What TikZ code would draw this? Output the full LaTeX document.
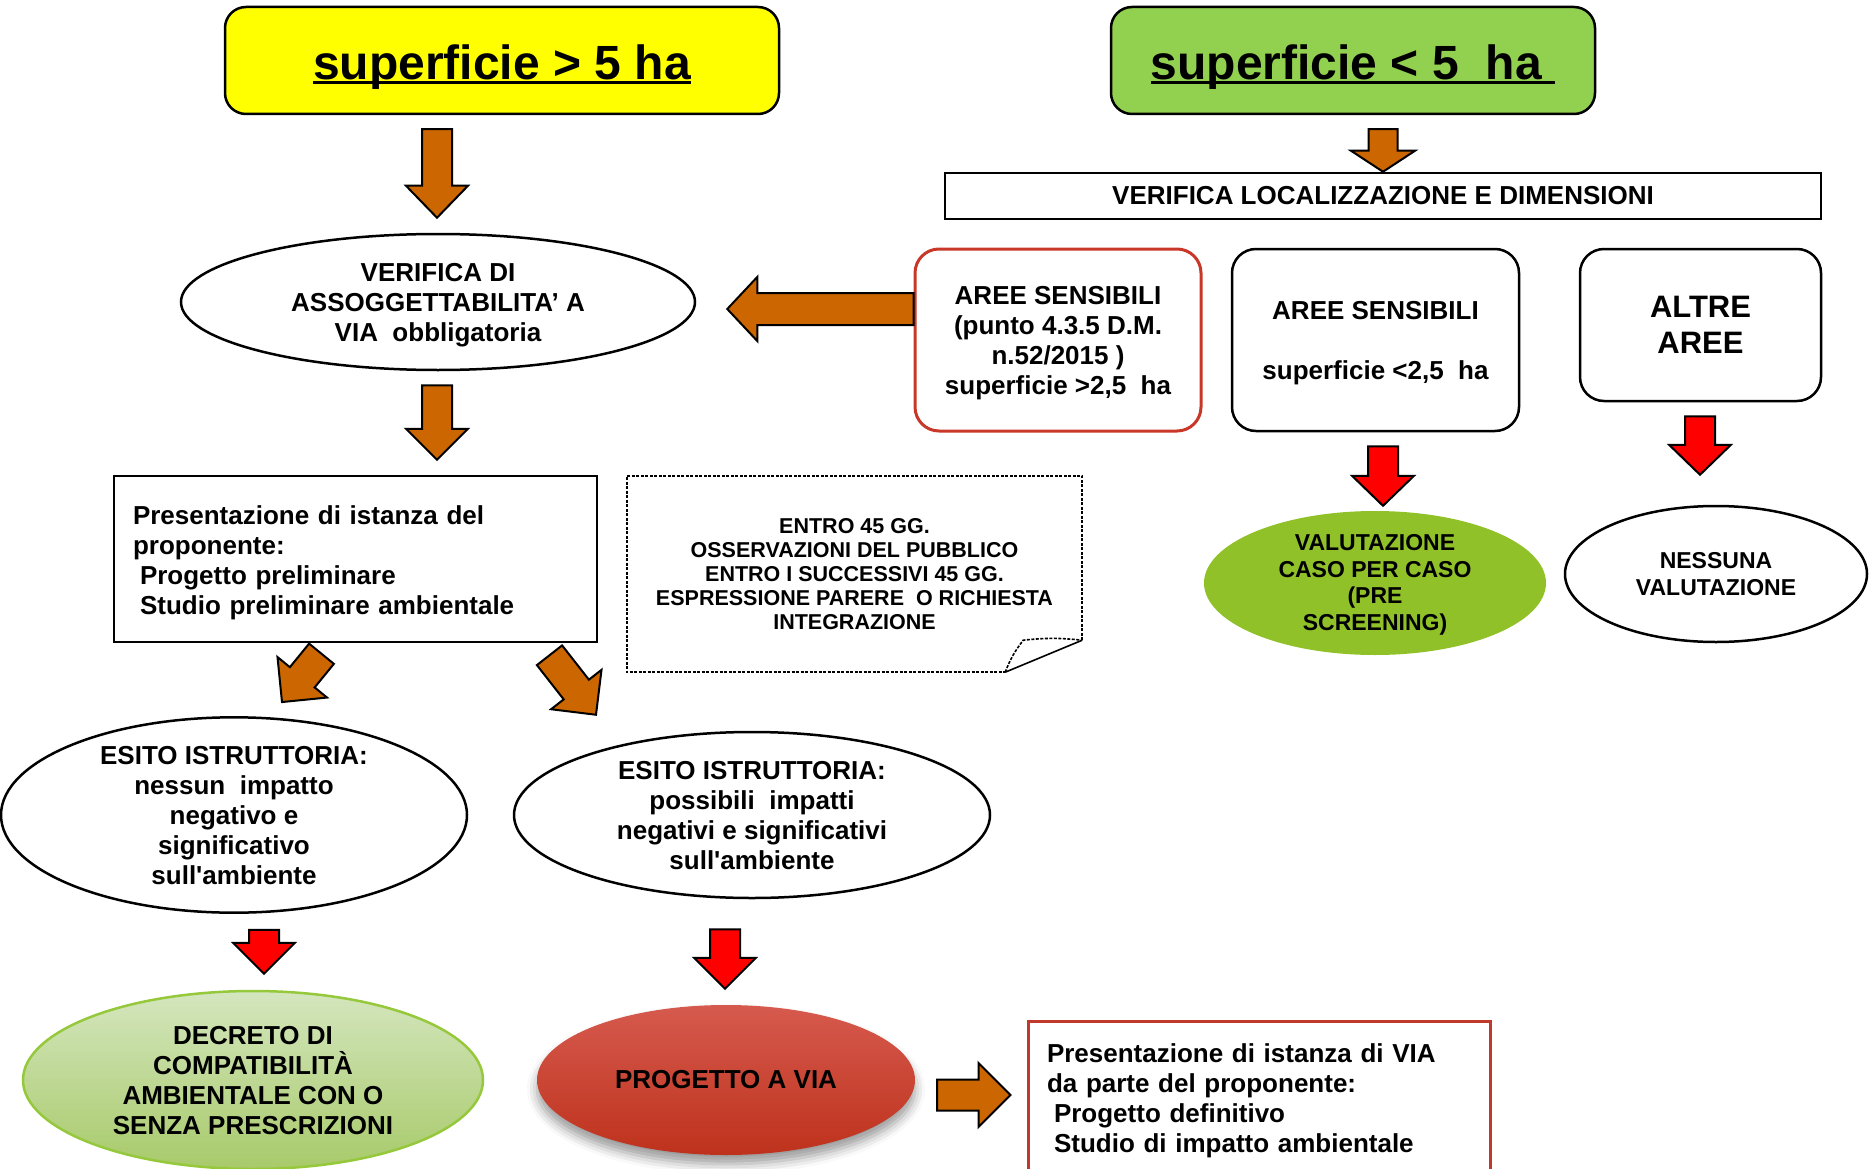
\documentclass[tikz,border=0pt]{standalone}
\usepackage{fontspec}
\setmainfont{Liberation Sans}
\usetikzlibrary{shapes.geometric,calc,shadows.blur}
\definecolor{arrorange}{RGB}{204,102,0}
\definecolor{arrred}{RGB}{255,0,0}
\definecolor{yelbox}{RGB}{255,255,0}
\definecolor{grnbox}{RGB}{146,208,80}
\definecolor{olivegrn}{RGB}{145,193,40}
\definecolor{sensred}{RGB}{200,55,40}
\definecolor{boxred}{RGB}{192,57,43}
\definecolor{dectop}{RGB}{212,230,190}
\definecolor{decbot}{RGB}{168,202,106}
\definecolor{decline}{RGB}{150,200,60}
\definecolor{prtop}{RGB}{214,90,78}
\definecolor{prbot}{RGB}{190,50,28}
\newsavebox{\ulsave}
\newcommand{\ultext}[1]{\sbox{\ulsave}{#1}\rlap{\rule[-5pt]{\wd\ulsave}{3pt}}\usebox{\ulsave}}
% block arrow between two named coordinates
\newcommand{\blockarrow}[6]{%
  \coordinate (bah) at ($(#2)!#4!(#1)$);
  \draw[barrow, fill=#3] ($(#1)!#5!90:(#2)$) -- ($(bah)!#5!90:(#2)$) -- ($(bah)!#6!90:(#2)$) -- (#2) -- ($(bah)!#6!-90:(#2)$) -- ($(bah)!#5!-90:(#2)$) -- ($(#1)!#5!-90:(#2)$) -- cycle;
}
\begin{document}
\begin{tikzpicture}[x=1pt,y=-1pt,
  every node/.style={font=\bfseries\fontsize{26}{30}\selectfont, align=center, inner sep=0pt},
  bord/.style={draw=black, line width=2.5pt},
  barrow/.style={draw=black, line width=2pt, line join=miter},
  notedash/.style={draw=black, line width=1.6pt, dash pattern=on 3pt off 1.5pt},
  bigfont/.style={font=\bfseries\fontsize{48}{54}\selectfont},
  midfont/.style={font=\bfseries\fontsize{23}{26.5}\selectfont},
]
\useasboundingbox (0,0) rectangle (1876,1169);
\clip (0,0) rectangle (1876,1169);

% top boxes
\node[bord, fill=yelbox, rounded corners=21pt, minimum width=554pt, minimum height=107pt, bigfont, text height=47pt] (gt5) at (502,60.5) {\ultext{superficie > 5 ha}};
\node[bord, fill=grnbox, rounded corners=21pt, minimum width=484pt, minimum height=107pt, bigfont, text height=47pt] (lt5) at (1353,60.5) {\ultext{superficie < 5\ \ ha\ }};

\node[bord, minimum width=876pt, minimum height=46pt] (loc) at (1383,196) {VERIFICA LOCALIZZAZIONE E DIMENSIONI};

\node[bord, ellipse, minimum width=514pt, minimum height=136pt, text depth=-1.7pt] (ver) at (438,302) {VERIFICA DI\\ASSOGGETTABILITA’ A\\VIA\ \ obbligatoria};

\node[draw=sensred, line width=3pt, rounded corners=24pt, minimum width=286pt, minimum height=182pt, text depth=-4.5pt] (as1) at (1058,340) {AREE SENSIBILI\\(punto 4.3.5 D.M.\\n.52/2015 )\\superficie >2,5\ \ ha};
\node[bord, rounded corners=24pt, minimum width=287pt, minimum height=182pt, text depth=-1.7pt] (as2) at (1375.5,340) {AREE SENSIBILI\\[30pt]superficie <2,5\ \ ha};
\node[bord, rounded corners=24pt, minimum width=241pt, minimum height=152pt, font=\bfseries\fontsize{31}{36}\selectfont] (altre) at (1700.5,325) {ALTRE\\AREE};

\node[bord, minimum width=483pt, minimum height=166pt, text width=445pt, align=left, text height=26pt] (pres) at (355.5,559) {Presentazione di istanza del\\proponente:\\\hspace*{7pt}Progetto preliminare\\\hspace*{7pt}Studio preliminare ambientale};

\node[minimum width=455pt, minimum height=196pt, font=\bfseries\fontsize{21.5}{24}\selectfont] (note) at (854.5,574) {ENTRO 45 GG.\\OSSERVAZIONI DEL PUBBLICO\\ENTRO I SUCCESSIVI 45 GG.\\ESPRESSIONE PARERE\ \ O RICHIESTA\\INTEGRAZIONE};
\draw[notedash] ([yshift=32pt]note.south east) -- (note.north east) -- (note.north west) -- (note.south west) -- ([xshift=-77pt]note.south east);
\draw[notedash] ([xshift=-77pt]note.south east) to[bend left=8] ([xshift=-59pt,yshift=32pt]note.south east) to[bend left=6] ([yshift=32pt]note.south east);
\draw[black, line width=1.6pt] ([xshift=-77pt]note.south east) -- ([yshift=32pt]note.south east);

\node[ellipse, fill=olivegrn, minimum width=342pt, minimum height=144pt, midfont, text depth=0.8pt] (val) at (1375,583) {VALUTAZIONE\\CASO PER CASO\\(PRE\\SCREENING)};
\node[bord, ellipse, minimum width=302pt, minimum height=136pt, midfont] (ness) at (1716,574) {NESSUNA\\VALUTAZIONE};

\node[bord, ellipse, minimum width=466pt, minimum height=166pt, text depth=-4.8pt] (es1) at (234,815) {ESITO ISTRUTTORIA:\\nessun\ \ impatto\\negativo e\\significativo\\sull\textquotesingle ambiente};
\node[bord, ellipse, minimum width=476pt, minimum height=166pt, text depth=-4.8pt] (es2) at (752,815) {ESITO ISTRUTTORIA:\\possibili\ \ impatti\\negativi e significativi\\sull\textquotesingle ambiente};

\node[ellipse, draw=decline, line width=2.5pt, top color=dectop, bottom color=decbot, minimum width=460pt, minimum height=178pt, text depth=-4.8pt] (dec) at (253,1080) {DECRETO DI\\COMPATIBILITÀ\\AMBIENTALE CON O\\SENZA PRESCRIZIONI};
\node[ellipse, top color=prtop, bottom color=prbot, minimum width=378pt, minimum height=150pt, blur shadow={shadow xshift=0pt, shadow yshift=-9pt, shadow blur radius=10pt, shadow opacity=40}] (prog) at (726,1080) {PROGETTO A VIA};

\node[draw=boxred, line width=3pt, minimum width=462pt, minimum height=152pt, text width=424pt, align=left, text height=26pt] (via) at (1259,1097) {Presentazione di istanza di VIA\\da parte del proponente:\\\hspace*{7pt}Progetto definitivo\\\hspace*{7pt}Studio di impatto ambientale};

% arrow end points
\coordinate (a1t) at ($(gt5.south)+(-65,14)$);
\coordinate (a1h) at ($(ver.north)+(-1,-15)$);
\coordinate (a2t) at ($(lt5.south)+(30,14)$);
\coordinate (a2h) at (loc.north);
\coordinate (a3t) at ($(as1.west)+(0,-31)$);
\coordinate (a3h) at ($(ver.east)+(31,7)$);
\coordinate (a4t) at ($(ver.south)+(-1,14)$);
\coordinate (a4h) at ($(pres.north)+(81.5,-15)$);
\coordinate (a5t) at ($(as2.south)+(7.5,14)$);
\coordinate (a5h) at ($(val.north)+(8,-5)$);
\coordinate (a6t) at ($(altre.south)+(-0.5,14)$);
\coordinate (a6h) at ($(ness.north)+(-16,-30)$);
\coordinate (a7t) at ($(pres.south)+(-34,10.5)$);
\coordinate (a7h) at ($(es1.north)+(48,-14)$);
\coordinate (a8t) at ($(pres.south)+(194,12)$);
\coordinate (a8h) at ($(es2.north)+(-156,-16)$);
\coordinate (a9t) at ($(es1.south)+(30,16)$);
\coordinate (a9h) at ($(dec.north)+(11,-16)$);
\coordinate (a10t) at ($(es2.south)+(-27,30)$);
\coordinate (a10h) at ($(prog.north)+(-1,-16)$);
\coordinate (a11t) at ($(prog.east)+(22,15)$);
\coordinate (a11h) at ($(via.west)+(-16,-2)$);

\blockarrow{a1t}{a1h}{arrorange}{32pt}{15pt}{31pt}
\blockarrow{a2t}{a2h}{arrorange}{21pt}{14.5pt}{32pt}
\blockarrow{a3t}{a3h}{arrorange}{30pt}{16pt}{32pt}
\blockarrow{a4t}{a4h}{arrorange}{31pt}{15pt}{31pt}
\blockarrow{a5t}{a5h}{arrred}{30pt}{15pt}{31pt}
\blockarrow{a6t}{a6h}{arrred}{30pt}{15pt}{31pt}
\blockarrow{a7t}{a7h}{arrorange}{32pt}{16pt}{32pt}
\blockarrow{a8t}{a8h}{arrorange}{32pt}{16pt}{32pt}
\blockarrow{a9t}{a9h}{arrred}{31pt}{15pt}{31pt}
\blockarrow{a10t}{a10h}{arrred}{31pt}{15pt}{31pt}
\blockarrow{a11t}{a11h}{arrorange}{32pt}{15.5pt}{32pt}
\end{tikzpicture}
\end{document}
